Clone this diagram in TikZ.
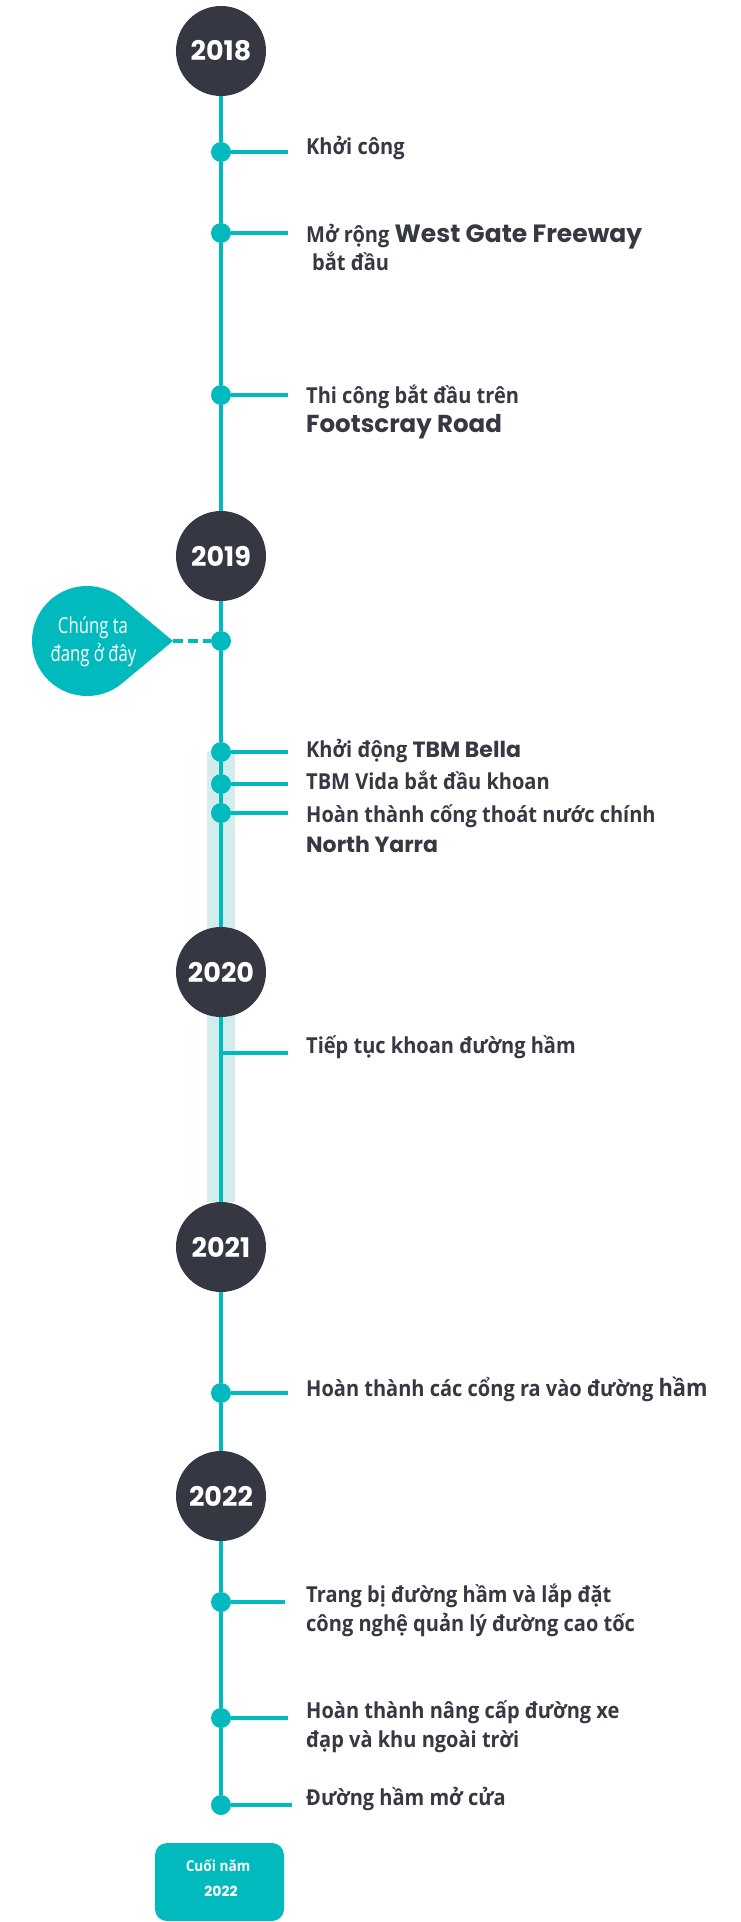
\documentclass[tikz,border=0pt]{standalone}
\usepackage{fontspec}
\setmainfont{Open Sans}
\newfontfamily\vn{Open Sans}[FakeStretch=0.91]
\newfontfamily\vncond{Open Sans}[FakeStretch=0.76]
\newfontfamily\geo{Poppins}
\newcommand\geoword[2][22]{{\geo\bfseries\fontsize{#1}{26}\selectfont #2}}
\definecolor{tealc}{HTML}{00BABE}
\definecolor{darkc}{HTML}{353743}
\definecolor{bandc}{HTML}{D3EDED}
\definecolor{inkc}{HTML}{363842}
\tikzset{
  year/.style={circle, fill=darkc, minimum size=90pt, inner sep=0pt, text=white,
    font=\geo\bfseries\fontsize{27}{30}\selectfont},
  dot/.style={circle, fill=tealc, minimum size=20pt, inner sep=0pt},
  tl/.style={draw=tealc, line width=3.5pt},
  tickln/.style={draw=tealc, line width=4pt},
  lbl/.style={anchor=base west, inner sep=0pt, text=inkc,
    font=\vn\bfseries\fontsize{22}{26}\selectfont},
  herelbl/.style={anchor=base, inner sep=0pt, text=white,
    font=\vncond\fontsize{22}{25}\selectfont},
  endlbl/.style={anchor=base, inner sep=0pt, text=white},
}
\begin{document}
\begin{tikzpicture}[x=1pt, y=-1pt]
\useasboundingbox (0,0) rectangle (741,1922);
% band
\node[fill=bandc, minimum width=28pt, minimum height=450pt, inner sep=0pt] (band) at (221,977) {};
% year circles
\node[year] (y2018) at (221,51) {2018};
\node[year] (y2019) at (221,556) {2019};
\node[year] (y2020) at (221,972) {2020};
\node[year] (y2021) at (221,1247) {2021};
\node[year] (y2022) at (221,1496) {2022};
% dots
\node[dot] (d1) at (221,152) {};
\node[dot] (d2) at (221,233) {};
\node[dot] (d3) at (221,395) {};
\node[dot] (d4) at (221,641) {};
\node[dot] (d5) at (221,752) {};
\node[dot] (d6) at (221,784) {};
\node[dot] (d7) at (221,813) {};
\coordinate (c8) at (221,1053);
\node[dot] (d9) at (221,1393) {};
\node[dot] (d10) at (221,1602) {};
\node[dot] (d11) at (221,1718) {};
\node[dot] (d12) at (221,1805) {};
% timeline
\draw[tl] (y2018) -- (d1);
\draw[tl] (d1) -- (d2);
\draw[tl] (d2) -- (d3);
\draw[tl] (d3) -- (y2019);
\draw[tl] (y2019) -- (d4);
\draw[tl] (d4) -- (d5);
\draw[tl] (d5) -- (d6);
\draw[tl] (d6) -- (d7);
\draw[tl] (d7) -- (y2020);
\draw[tl] (y2020) -- (y2021);
\draw[tl] (y2021) -- (d9);
\draw[tl] (d9) -- (y2022);
\draw[tl] (y2022) -- (d10);
\draw[tl] (d10) -- (d11);
\draw[tl] (d11) -- (d12);
% tick ends
\coordinate (t1) at (288,152);
\coordinate (t2) at (288,233);
\coordinate (t3) at (288,395);
\coordinate (t5) at (288,752);
\coordinate (t6) at (288,784);
\coordinate (t7) at (288,813);
\coordinate (t8) at (288,1053);
\coordinate (t9) at (288,1393);
\coordinate (t10) at (285,1602);
\coordinate (t11) at (288,1718);
\coordinate (t12) at (292,1805);
\draw[tickln] (d1) -- (t1);
\draw[tickln] (d2) -- (t2);
\draw[tickln] (d3) -- (t3);
\draw[tickln] (d5) -- (t5);
\draw[tickln] (d6) -- (t6);
\draw[tickln] (d7) -- (t7);
\draw[tickln] (c8) -- (t8);
\draw[tickln] (d9) -- (t9);
\draw[tickln] (d10) -- (t10);
\draw[tickln] (d11) -- (t11);
\draw[tickln] (d12) -- (t12);
% labels
\node[lbl] (l1) at (306,154) {Khởi công};
\node[lbl] (l2a) at (306,242) {Mở rộng \geoword[25]{West Gate Freeway}};
\node[lbl] (l2b) at (312,270) {bắt đầu};
\node[lbl] (l3a) at (306,403) {Thi công bắt đầu trên};
\node[lbl] (l3b) at (306,432) {\geoword[24.5]{Footscray Road}};
\node[lbl] (l5) at (306,757) {Khởi động \geoword{TBM Bella}};
\node[lbl] (l6) at (306,789) {TBM Vida bắt đầu khoan};
\node[lbl] (l7a) at (306,822) {Hoàn thành cống thoát nước chính};
\node[lbl] (l7b) at (306,852) {\geoword{North Yarra}};
\node[lbl] (l8) at (306,1053) {Tiếp tục khoan đường hầm};
\node[lbl] (l9) at (306,1396) {Hoàn thành các cổng ra vào đường {\fontsize{24}{28}\selectfont hầm}};
\node[lbl] (l10a) at (306,1602) {Trang bị đường hầm và lắp đặt};
\node[lbl] (l10b) at (306,1631) {công nghệ quản lý đường cao tốc};
\node[lbl] (l11a) at (306,1718) {Hoàn thành nâng cấp đường xe};
\node[lbl] (l11b) at (306,1747) {đạp và khu ngoài trời};
\node[lbl] (l12) at (306,1805) {Đường hầm mở cửa};
% "we are here" marker
\coordinate (tip) at (173,641);
\fill[tealc] (tip) -- (122.35,683.13) arc[start angle=50, end angle=310, radius=55] -- cycle;
\draw[tealc, line width=4pt, dash pattern=on 10pt off 5pt] (tip) -- (d4);
\node[herelbl] (h1) at (93,633) {Chúng ta};
\node[herelbl] (h2) at (93.5,661) {đang ở đây};
% end box
\node[fill=tealc, rounded corners=12pt, minimum width=129pt, minimum height=78pt, inner sep=0pt] (endbox) at (219.5,1882) {};
\node[endlbl, font=\vn\bfseries\fontsize{15}{18}\selectfont] (e1) at (218,1871) {Cuối năm};
\node[endlbl, font=\geo\bfseries\fontsize{14}{18}\selectfont] (e2) at (221,1896) {2022};
\end{tikzpicture}
\end{document}
